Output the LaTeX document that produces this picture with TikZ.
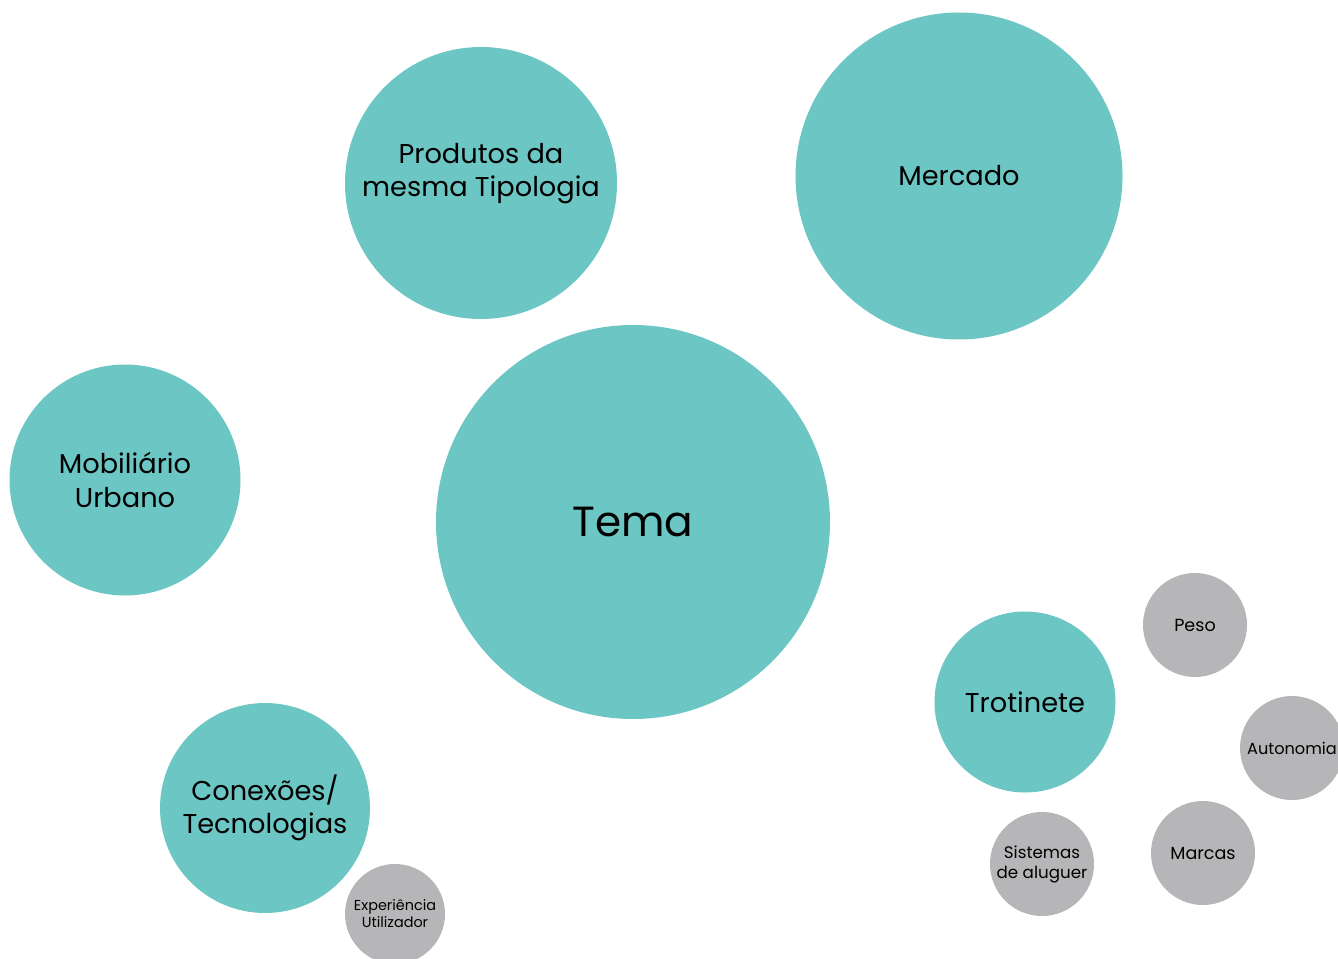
\documentclass[tikz,border=0pt]{standalone}
\usepackage{fontspec}
\setmainfont{Poppins}
\definecolor{teal1}{HTML}{6BC6C4}
\definecolor{grey1}{HTML}{B6B6B8}
\tikzset{
  centered/.style = { align=center, anchor=center },
    bubble/.style = { circle, fill=teal1, centered, inner sep=0pt, font=\fontsize{15.5}{19}\selectfont },
     small/.style = { circle, fill=grey1, centered, inner sep=0pt, minimum size=104*0.02cm, font=\fontsize{10}{11.5}\selectfont },
}
\begin{document}
\begin{tikzpicture}[x=0.02cm,y=-0.02cm]
  \clip (0,0) rectangle (1338,959);
  \node[bubble, minimum size=394*0.02cm, font=\fontsize{24}{28}\selectfont] (tema) at (633,522) {Tema};
  \node[bubble, minimum size=272*0.02cm,
    label={[centered, font=\fontsize{15.5}{19}\selectfont, yshift=0.19cm]center:Produtos da\\mesma Tipologia}] (produtos) at (481,183) {};
  \node[bubble, minimum size=327*0.02cm] (mercado) at (959,176) {Mercado};
  \node[bubble, minimum size=231*0.02cm] (mobiliario) at (125,480) {Mobiliário\\Urbano};
  \node[bubble, minimum size=210*0.02cm] (conexoes) at (265,808) {Conexões/\\Tecnologias};
  \node[bubble, minimum size=181*0.02cm] (trotinete) at (1025,702) {Trotinete};

  \node[small] (peso) at (1195,625) {Peso};
  \node[small, font=\fontsize{9.2}{11}\selectfont] (autonomia) at (1292,748) {Autonomia};
  \node[small] (marcas) at (1203,853) {Marcas};
  \node[small, font=\fontsize{9.5}{11.5}\selectfont] (sistemas) at (1042,864) {Sistemas\\de aluguer};
  \node[small, minimum size=100*0.02cm, font=\fontsize{8.2}{9.6}\selectfont] (experiencia) at (395,914) {Experiência\\Utilizador};
\end{tikzpicture}
\end{document}
